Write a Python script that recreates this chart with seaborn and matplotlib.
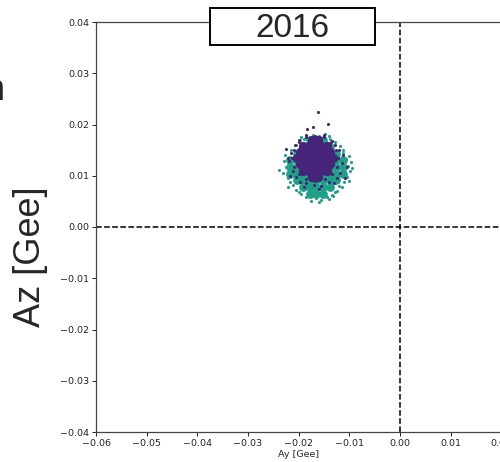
import matplotlib
matplotlib.use("Agg")
import matplotlib.pyplot as plt
import seaborn as sns
from matplotlib.patches import Rectangle

sns.set_style("ticks")
plt.rcParams['font.family'] = ['DejaVu Sans']

# ---- data ----
# teal cluster: dense core points
teal_core_x = [-0.0178, -0.0165, -0.0152,
               -0.0191, -0.0178, -0.0165, -0.0152, -0.0139,
               -0.0204, -0.0191, -0.0178, -0.0165, -0.0152, -0.0139, -0.0126,
               -0.0217, -0.0204, -0.0191, -0.0178, -0.0165, -0.0152, -0.0139, -0.0126, -0.0113,
               -0.0217, -0.0204, -0.0191, -0.0178, -0.0165, -0.0152, -0.0139, -0.0126, -0.0113,
               -0.0217, -0.0204, -0.0191, -0.0178, -0.0165, -0.0152, -0.0139, -0.0126, -0.0113,
               -0.0204, -0.0191, -0.0178, -0.0165, -0.0152, -0.0139, -0.0126,
               -0.0191, -0.0178, -0.0165, -0.0152, -0.0139,
               -0.0178, -0.0165, -0.0152]
teal_core_y = [0.0065, 0.0065, 0.0065,
               0.0078, 0.0078, 0.0078, 0.0078, 0.0078,
               0.0091, 0.0091, 0.0091, 0.0091, 0.0091, 0.0091, 0.0091,
               0.0104, 0.0104, 0.0104, 0.0104, 0.0104, 0.0104, 0.0104, 0.0104, 0.0104,
               0.0117, 0.0117, 0.0117, 0.0117, 0.0117, 0.0117, 0.0117, 0.0117, 0.0117,
               0.0130, 0.0130, 0.0130, 0.0130, 0.0130, 0.0130, 0.0130, 0.0130, 0.0130,
               0.0143, 0.0143, 0.0143, 0.0143, 0.0143, 0.0143, 0.0143,
               0.0156, 0.0156, 0.0156, 0.0156, 0.0156,
               0.0169, 0.0169, 0.0169]
# teal cluster: scattered edge points
teal_edge_x = [-0.0225, -0.0230, -0.0222, -0.0219, -0.0226, -0.0215, -0.0205, -0.0198,
               -0.0185, -0.0172, -0.0160, -0.0148, -0.0138, -0.0128, -0.0118, -0.0112,
               -0.0106, -0.0102, -0.0098, -0.0104, -0.0110, -0.0115, -0.0125, -0.0135,
               -0.0145, -0.0155, -0.0165, -0.0175, -0.0185, -0.0195, -0.0205, -0.0212,
               -0.0218, -0.0094, -0.0100, -0.0160, -0.0140, -0.0238, -0.0128, -0.0200,
               -0.0215, -0.0108, -0.0120, -0.0190, -0.0140, -0.0170, -0.0150, -0.0222,
               -0.0113, -0.0096, -0.0208, -0.0180, -0.0228, -0.0101, -0.0132, -0.0196]
teal_edge_y = [0.0118, 0.0105, 0.0095, 0.0132, 0.0140, 0.0150, 0.0160, 0.0170,
               0.0175, 0.0180, 0.0178, 0.0182, 0.0172, 0.0165, 0.0158, 0.0145,
               0.0132, 0.0120, 0.0110, 0.0098, 0.0088, 0.0078, 0.0070, 0.0062,
               0.0058, 0.0052, 0.0056, 0.0050, 0.0058, 0.0064, 0.0072, 0.0082,
               0.0088, 0.0115, 0.0138, 0.0048, 0.0055, 0.0112, 0.0068, 0.0068,
               0.0120, 0.0105, 0.0080, 0.0172, 0.0178, 0.0062, 0.0066, 0.0078,
               0.0150, 0.0126, 0.0090, 0.0062, 0.0128, 0.0090, 0.0060, 0.0176]

# purple cluster: dense core points
purple_core_x = [-0.0174, -0.0162,
                 -0.0192, -0.0180, -0.0168, -0.0156, -0.0144,
                 -0.0198, -0.0186, -0.0174, -0.0162, -0.0150, -0.0138,
                 -0.0204, -0.0192, -0.0180, -0.0168, -0.0156, -0.0144, -0.0132,
                 -0.0198, -0.0186, -0.0174, -0.0162, -0.0150, -0.0138,
                 -0.0192, -0.0180, -0.0168, -0.0156, -0.0144,
                 -0.0174, -0.0162]
purple_core_y = [0.0098, 0.0098,
                 0.0110, 0.0110, 0.0110, 0.0110, 0.0110,
                 0.0122, 0.0122, 0.0122, 0.0122, 0.0122, 0.0122,
                 0.0134, 0.0134, 0.0134, 0.0134, 0.0134, 0.0134, 0.0134,
                 0.0146, 0.0146, 0.0146, 0.0146, 0.0146, 0.0146,
                 0.0158, 0.0158, 0.0158, 0.0158, 0.0158,
                 0.0170, 0.0170]
# purple cluster: scattered points
purple_edge_x = [-0.0162, -0.0142, -0.0172, -0.0184,
                 -0.0214, -0.0210, -0.0200, -0.0185, -0.0168, -0.0150, -0.0136, -0.0126,
                 -0.0122, -0.0125, -0.0134, -0.0148, -0.0168, -0.0186, -0.0200, -0.0210,
                 -0.0215, -0.0220, -0.0212, -0.0205, -0.0198, -0.0120, -0.0115, -0.0118,
                 -0.0125, -0.0130, -0.0108, -0.0112, -0.0200, -0.0185, -0.0150, -0.0135,
                 -0.0170, -0.0155, -0.0185, -0.0222, -0.0208, -0.0128, -0.0140, -0.0190,
                 -0.0160, -0.0105, -0.0225, -0.0218]
purple_edge_y = [0.0224, 0.0201, 0.0195, 0.0191,
                 0.0134, 0.0150, 0.0165, 0.0175, 0.0178, 0.0176, 0.0166, 0.0150,
                 0.0134, 0.0118, 0.0104, 0.0094, 0.0090, 0.0094, 0.0104, 0.0118,
                 0.0145, 0.0128, 0.0110, 0.0098, 0.0088, 0.0150, 0.0125, 0.0105,
                 0.0095, 0.0085, 0.0095, 0.0140, 0.0170, 0.0180, 0.0180, 0.0168,
                 0.0082, 0.0080, 0.0085, 0.0135, 0.0160, 0.0160, 0.0088, 0.0078,
                 0.0075, 0.0118, 0.0152, 0.0100]

x_limits = [-0.06, 0.02]
y_limits = [-0.04, 0.04]
x_ticks = [-0.06, -0.05, -0.04, -0.03, -0.02, -0.01, 0.00, 0.01, 0.02]
y_ticks = [-0.04, -0.03, -0.02, -0.01, 0.00, 0.01, 0.02, 0.03, 0.04]
title_text = "2016"
x_label = "Ay [Gee]"
y_label = "Az [Gee]"

teal = "#20a087"
purple = "#46247a"

# ---- figure ----
fig = plt.figure(figsize=(5.0, 4.62), dpi=100)
ax = fig.add_axes([96 / 500, 30 / 462, 405.3 / 500, 410 / 462])

sns.scatterplot(x=teal_core_x, y=teal_core_y, ax=ax, color=teal, s=40, linewidth=0, zorder=2)
sns.scatterplot(x=teal_edge_x, y=teal_edge_y, ax=ax, color=teal, s=5, linewidth=0, zorder=2)
sns.scatterplot(x=purple_core_x, y=purple_core_y, ax=ax, color=purple, s=45, linewidth=0, zorder=3)
sns.scatterplot(x=purple_edge_x, y=purple_edge_y, ax=ax, color=purple, s=5, linewidth=0, zorder=3)

ax.axhline(0, color="black", linestyle="--", linewidth=1.1, zorder=1)
ax.axvline(0, color="black", linestyle="--", linewidth=1.1, zorder=1)

ax.set_xlim(x_limits)
ax.set_ylim(y_limits)
ax.set_xticks(x_ticks)
ax.set_yticks(y_ticks)
ax.set_xticklabels([f"{v:.2f}".replace("-", "\u2212") for v in x_ticks])
ax.set_yticklabels([f"{v:.2f}".replace("-", "\u2212") for v in y_ticks])
ax.tick_params(labelsize=6.8, length=3, width=0.7, pad=2, colors="#222222")
ax.set_xlabel(x_label, fontsize=6.8, labelpad=1.5)
for sp in ax.spines.values():
    sp.set_linewidth(0.9)
    sp.set_color("#444444")

# large y label (Arial-like)
fig.text(31 / 500, (462 - 257) / 462, y_label, rotation=90,
         ha="center", va="center", fontsize=26, family=["Liberation Sans", "DejaVu Sans"])
# cut-off letter from a neighbouring panel
fig.text(-15 / 500, (462 - 100) / 462, "n", ha="left", va="baseline",
         fontsize=26, family=["Liberation Sans", "DejaVu Sans"])

# title box
rect = Rectangle((210 / 500, (462 - 45) / 462), 165 / 500, 37 / 462,
                 transform=fig.transFigure, facecolor="white", edgecolor="black",
                 linewidth=1.4, zorder=5)
fig.patches.append(rect)
fig.text(292.5 / 500, (462 - 37) / 462, title_text, ha="center", va="baseline",
         fontsize=24, family=["Liberation Sans", "DejaVu Sans"], zorder=6)

fig.savefig("out.png", dpi=100)
